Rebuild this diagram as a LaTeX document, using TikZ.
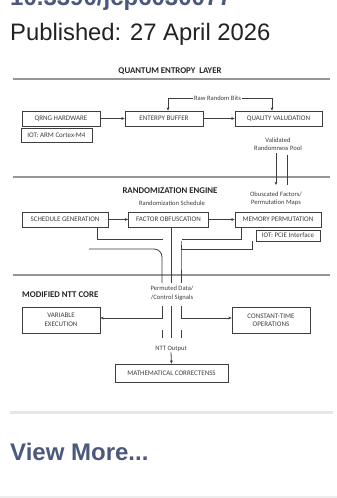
\documentclass[tikz,border=0pt]{standalone}
\usepackage{fontspec}
\setmainfont{Liberation Sans}
\newfontfamily\diag{Carlito}
\usetikzlibrary{arrows.meta}
\definecolor{slate}{RGB}{76,88,124}
\definecolor{pubtext}{RGB}{34,34,34}
\definecolor{ink}{RGB}{62,62,62}
\definecolor{sepgray}{RGB}{150,150,150}
\definecolor{pagegray}{RGB}{230,230,230}
\begin{document}
\begin{tikzpicture}[x=1pt,y=-1pt,
  box/.style={draw=ink,line width=0.8pt,inner sep=0pt,align=center,text=ink,
    font=\diag\fontsize{7}{8.5}\selectfont},
  lbl/.style={inner sep=0.5pt,align=center,text=ink,font=\diag\fontsize{6.6}{8.5}\selectfont},
  ttl/.style={inner sep=0pt,text=black!85,font=\diag\bfseries\fontsize{8.8}{10}\selectfont},
  conn/.style={draw=ink,line width=0.8pt},
  arr/.style={conn,-{Stealth[length=3.2pt,width=2.8pt]}},
  sepline/.style={draw=sepgray,line width=1.2pt}]
\useasboundingbox (0,0) rectangle (337,498);
\clip (0,0) rectangle (337,498);
\fill[white] (0,0) rectangle (337,498);

% page header
\node[anchor=base west,inner sep=0pt,text=slate,font=\bfseries\fontsize{24}{24}\selectfont] (doi) at (10,5) {10.3390/jcp6030077};
\node[anchor=base west,inner sep=0pt,text=pubtext,font=\fontsize{23.8}{24}\selectfont] (pub) at (10,40.7) {Published: 27 April 2026};

% separators in diagram
\draw[sepline] (13,79) -- (330,79);
\draw[sepline] (13,177) -- (330,177);
\draw[sepline] (13,275) -- (330,275);

% titles
\node[ttl] (t1) at (170,71) {QUANTUM ENTROPY\ \ LAYER};
\node[ttl] (t2) at (170,191) {RANDOMIZATION ENGINE};
\node[ttl,anchor=west] (t3) at (22,295) {MODIFIED NTT CORE};

% layer 1
\node[box,minimum width=78pt,minimum height=15pt] (qrng) at (61,118.5) {QRNG HARDWARE};
\node[box,minimum width=71pt,minimum height=14pt] (iot1) at (56.5,135) {IOT: ARM Cortex-M4};
\node[box,minimum width=78pt,minimum height=15pt] (buffer) at (164,118.5) {ENTERPY BUFFER};
\node[box,minimum width=87pt,minimum height=15pt] (quality) at (278.5,118.5) {QUALITY VALUDATION};
\node[lbl] (raw) at (217.5,98) {Raw Random Bits};
\node[lbl] (valid) at (278,144) {Validated\\Randomness Pool};

\draw[arr] (qrng) -- (buffer);
\draw[arr] (buffer) -- (quality);
\draw[arr] (raw.west) -| ([xshift=4pt]buffer.north);
\draw[arr] (raw.east) -| ([xshift=-6.5pt]quality.north);

% layer 2
\node[lbl] (sched) at (172,203) {Randomization Schedule};
\node[lbl] (obus) at (276,198.5) {Obuscated Factors/\\Permutation Maps};
\node[box,minimum width=86pt,minimum height=15pt] (schedule) at (65,219.5) {SCHEDULE GENERATION};
\node[box,minimum width=80pt,minimum height=15pt] (factor) at (168.5,219.5) {FACTOR OBFUSCATION};
\node[box,minimum width=86pt,minimum height=15pt] (memory) at (278,219.5) {MEMORY PERMUTATION};
\node[box,minimum width=64pt,minimum height=11pt] (iot2) at (288,235.5) {IOT: PCIE Interface};

\coordinate (vA) at (276,153);
\coordinate (vB) at (276,185);
\coordinate (vC) at (287,155);
\coordinate (vD) at (287,185);
\draw[arr] (vA) -- (vB);
\draw[conn] (vC) -- (vD);

\draw[arr] (schedule) -- (factor);
\draw[arr] (factor) -- (memory);

\coordinate (jL) at (163,239);
\coordinate (jR) at (182,239);
\draw[conn] ([xshift=32pt]schedule.south) |- (jL);
\draw[conn] ([xshift=-37pt]memory.south) |- (jR);

\coordinate (sL) at (89,249);
\coordinate (pL) at (162,283);
\coordinate (pM) at (171,283);
\coordinate (pR) at (181,283);
\coordinate (cR) at (181,249);
\draw[conn,rounded corners=8pt] (sL) -| (pL);
\draw[conn] ([xshift=-36pt]iot2.south) |- (cR) [rounded corners=8pt] -- (cR) -- (pR);
\draw[conn] ([xshift=2.5pt]factor.south) -- (pM);

% layer 3
\node[lbl] (perm) at (172,293.5) {Permuted Data/\\/Control Signals};
\node[box,minimum width=78pt,minimum height=26pt] (variable) at (61,320) {VARIABLE\\EXECUTION};
\node[box,minimum width=78pt,minimum height=26pt] (constant) at (271,320) {CONSTANT-TIME\\OPERATIONS};
\node[lbl] (ntt) at (171,349) {NTT Output};
\node[box,minimum width=113pt,minimum height=18pt] (math) at (171.5,373) {MATHEMATICAL CORRECTENSS};

\coordinate (qL) at (162,306);
\coordinate (qM) at (171,306);
\coordinate (qR) at (181,306);
\coordinate (qM2) at (171,338);
\coordinate (sa) at (162,330);
\coordinate (sb) at (162,338);
\coordinate (sc) at (181,330);
\coordinate (sd) at (181,338);
\draw[arr] (qL) |- ([yshift=2pt]variable.east);
\draw[arr] (qR) |- ([yshift=2pt]constant.west);
\draw[conn] (qM) -- (qM2);
\draw[conn] (sa) -- (sb);
\draw[conn] (sc) -- (sd);
\draw[arr] (ntt.south) -- (math.north);

% page footer
\fill[pagegray] (10,411) rectangle (333,413.5);
\node[anchor=base west,inner sep=0pt,text=slate,font=\bfseries\fontsize{24}{24}\selectfont] (more) at (10,460) {View More...};
\fill[pagegray!70] (0,496) rectangle (337,498);
\end{tikzpicture}
\end{document}
